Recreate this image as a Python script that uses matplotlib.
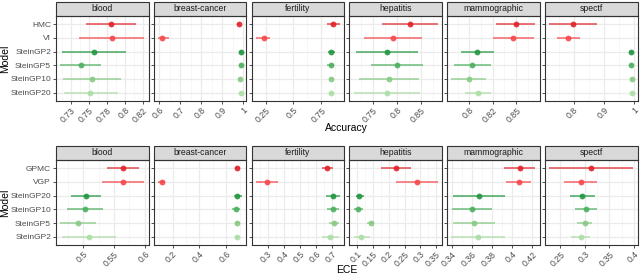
import numpy as np
import matplotlib
matplotlib.use("Agg")
import matplotlib.pyplot as plt
from matplotlib.patches import Rectangle
from matplotlib.ticker import FixedLocator, AutoMinorLocator

plt.rcParams['font.family'] = ['Liberation Sans', 'DejaVu Sans']

datasets = ["blood", "breast-cancer", "fertility", "hepatitis", "mammographic", "spectf"]

# accuracy panel (top)
acc_models = ["HMC", "VI", "SteinGP2", "SteinGP5", "SteinGP10", "SteinGP20"]
acc_mid = [
    [0.780, 0.7815, 0.7565, 0.7385, 0.7542, 0.7518],
    [0.978, 0.616, 0.988, 0.990, 0.983, 0.988],
    [0.851, 0.235, 0.838, 0.832, 0.838, 0.838],
    [0.826, 0.791, 0.778, 0.799, 0.783, 0.778],
    [0.8497, 0.8469, 0.8085, 0.8032, 0.7997, 0.8095],
    [0.799, 0.782, 0.992, 0.992, 0.995, 0.993],
]
acc_lo = [
    [0.746, 0.7357, 0.7125, 0.7097, 0.7139, 0.7143],
    [0.972, 0.595, 0.984, 0.986, 0.979, 0.984],
    [0.803, 0.163, 0.809, 0.800, 0.818, 0.818],
    [0.7676, 0.7305, 0.713, 0.745, 0.721, 0.709],
    [0.8289, 0.8257, 0.7908, 0.7838, 0.781, 0.796],
    [0.719, 0.745, 0.987, 0.988, 0.991, 0.989],
]
acc_hi = [
    [0.815, 0.827, 0.801, 0.7667, 0.7944, 0.790],
    [0.984, 0.6475, 0.992, 0.994, 0.987, 0.992],
    [0.916, 0.291, 0.873, 0.865, 0.858, 0.858],
    [0.885, 0.852, 0.843, 0.855, 0.845, 0.849],
    [0.8705, 0.8684, 0.826, 0.823, 0.818, 0.823],
    [0.878, 0.820, 0.997, 0.996, 0.998, 0.997],
]
acc_ticks = [
    [0.725, 0.75, 0.775, 0.8, 0.825],
    [0.6, 0.7, 0.8, 0.9, 1.0],
    [0.25, 0.5, 0.75],
    [0.75, 0.8, 0.85],
    [0.8, 0.825, 0.85],
    [0.8, 0.9, 1.0],
]
acc_ticklabels = [
    ["0.73", "0.75", "0.78", "0.8", "0.82"],
    ["0.6", "0.7", "0.8", "0.9", "1"],
    ["0.25", "0.5", "0.75"],
    ["0.75", "0.8", "0.85"],
    ["0.8", "0.82", "0.85"],
    ["0.8", "0.9", "1"],
]

# ECE panel (bottom)
ece_models = ["GPMC", "VGP", "SteinGP20", "SteinGP10", "SteinGP5", "SteinGP2"]
ece_mid = [
    [0.5644, 0.565, 0.5048, 0.5032, 0.492, 0.5102],
    [0.682, 0.118, 0.682, 0.672, 0.682, 0.680],
    [0.665, 0.296, 0.704, 0.702, 0.710, 0.688],
    [0.222, 0.289, 0.107, 0.102, 0.143, 0.111],
    [0.4076, 0.4063, 0.3672, 0.360, 0.3625, 0.3665],
    [0.3128, 0.2913, 0.2945, 0.3013, 0.2994, 0.2913],
]
ece_lo = [
    [0.5385, 0.531, 0.4798, 0.4744, 0.4631, 0.4663],
    [0.665, 0.091, 0.657, 0.645, 0.665, 0.662],
    [0.637, 0.226, 0.659, 0.665, 0.677, 0.637],
    [0.176, 0.224, 0.097, 0.089, 0.130, 0.091],
    [0.392, 0.3937, 0.3417, 0.3403, 0.3417, 0.3397],
    [0.2271, 0.2581, 0.2696, 0.2792, 0.2838, 0.2711],
]
ece_hi = [
    [0.591, 0.5989, 0.5295, 0.532, 0.5215, 0.5535],
    [0.702, 0.146, 0.718, 0.700, 0.700, 0.698],
    [0.702, 0.366, 0.747, 0.743, 0.739, 0.743],
    [0.270, 0.355, 0.122, 0.120, 0.154, 0.141],
    [0.423, 0.419, 0.3923, 0.3799, 0.3831, 0.3926],
    [0.399, 0.3249, 0.3202, 0.3243, 0.3148, 0.3115],
]
ece_ticks = [
    [0.5, 0.55, 0.6],
    [0.2, 0.4, 0.6],
    [0.3, 0.4, 0.5, 0.6, 0.7],
    [0.1, 0.15, 0.2, 0.25, 0.3, 0.35],
    [0.34, 0.36, 0.38, 0.4, 0.42],
    [0.25, 0.3, 0.35, 0.4],
]
ece_ticklabels = [
    ["0.5", "0.55", "0.6"],
    ["0.2", "0.4", "0.6"],
    ["0.3", "0.4", "0.5", "0.6", "0.7"],
    ["0.1", "0.15", "0.2", "0.25", "0.3", "0.35"],
    ["0.34", "0.36", "0.38", "0.4", "0.42"],
    ["0.25", "0.3", "0.35", "0.4"],
]

row_colors = ["#E0242B", "#F7474A", "#22963F", "#4DB05F", "#86CA84", "#ADDDA6"]

W, H = 640, 276
fig = plt.figure(figsize=(W / 100, H / 100), dpi=100)

LEFT = 56
PW = 92.5
GAP = 5.3
STRIP = 14.5


def draw_row(top, bottom, models, mid, lo, hi, ticks, ticklabels, xlabel, xlabel_y):
    ph = bottom - top
    for j, name in enumerate(datasets):
        x0 = LEFT + j * (PW + GAP)
        ax = fig.add_axes([x0 / W, (H - bottom) / H, PW / W, ph / H])
        ypos = np.arange(len(models))
        for i in range(len(models)):
            c = row_colors[i]
            ax.plot([lo[j][i], hi[j][i]], [ypos[i], ypos[i]], color=c, lw=1.2,
                    alpha=0.75, solid_capstyle='butt', zorder=3)
            ax.plot(mid[j][i], ypos[i], 'o', color=c, ms=4.2, alpha=0.9,
                    mec='none', zorder=4)
        ax.set_ylim(len(models) - 0.4, -0.6)
        ax.margins(x=0.05)
        ax.set_yticks(ypos)
        if j == 0:
            ax.set_yticklabels(models, fontsize=6.0, color="#4D4D4D")
        else:
            ax.set_yticklabels([])
        ax.xaxis.set_major_locator(FixedLocator(ticks[j]))
        ax.set_xticklabels(ticklabels[j], rotation=45, ha='right', va='top',
                           rotation_mode='anchor', fontsize=6.3, color="#4D4D4D")
        ax.xaxis.set_minor_locator(AutoMinorLocator(2))
        ax.tick_params(axis='both', which='major', length=2.2, width=0.6,
                       color="#333333", pad=1.3)
        ax.tick_params(axis='x', which='minor', length=0)
        ax.grid(True, which='major', color="#EBEBEB", lw=0.9, zorder=0)
        ax.grid(True, which='minor', axis='x', color="#F4F4F4", lw=0.5, zorder=0)
        ax.set_axisbelow(True)
        for s in ax.spines.values():
            s.set_color("#333333")
            s.set_linewidth(0.8)
        h = STRIP / ph
        ax.add_patch(Rectangle((0, 1), 1, h, transform=ax.transAxes, clip_on=False,
                               facecolor="#D9D9D9", edgecolor="#333333", lw=0.8))
        ax.text(0.5, 1 + h / 2, name, transform=ax.transAxes, ha='center',
                va='center', fontsize=6.2, color="#1A1A1A")
    mid_x = (LEFT + 6 * PW + 5 * GAP + LEFT) / 2
    fig.text(mid_x / W, 1 - xlabel_y / H, xlabel, ha='center', va='center', fontsize=7.5)
    fig.text(5.0 / W, 1 - (top + bottom) / 2 / H, "Model", rotation=90,
             ha='center', va='center', fontsize=7.5)


draw_row(16.0, 100.7, acc_models, acc_mid, acc_lo, acc_hi,
         acc_ticks, acc_ticklabels, "Accuracy", 128)
draw_row(160.0, 245.0, ece_models, ece_mid, ece_lo, ece_hi,
         ece_ticks, ece_ticklabels, "ECE", 270)

fig.savefig("out.png", dpi=100)
